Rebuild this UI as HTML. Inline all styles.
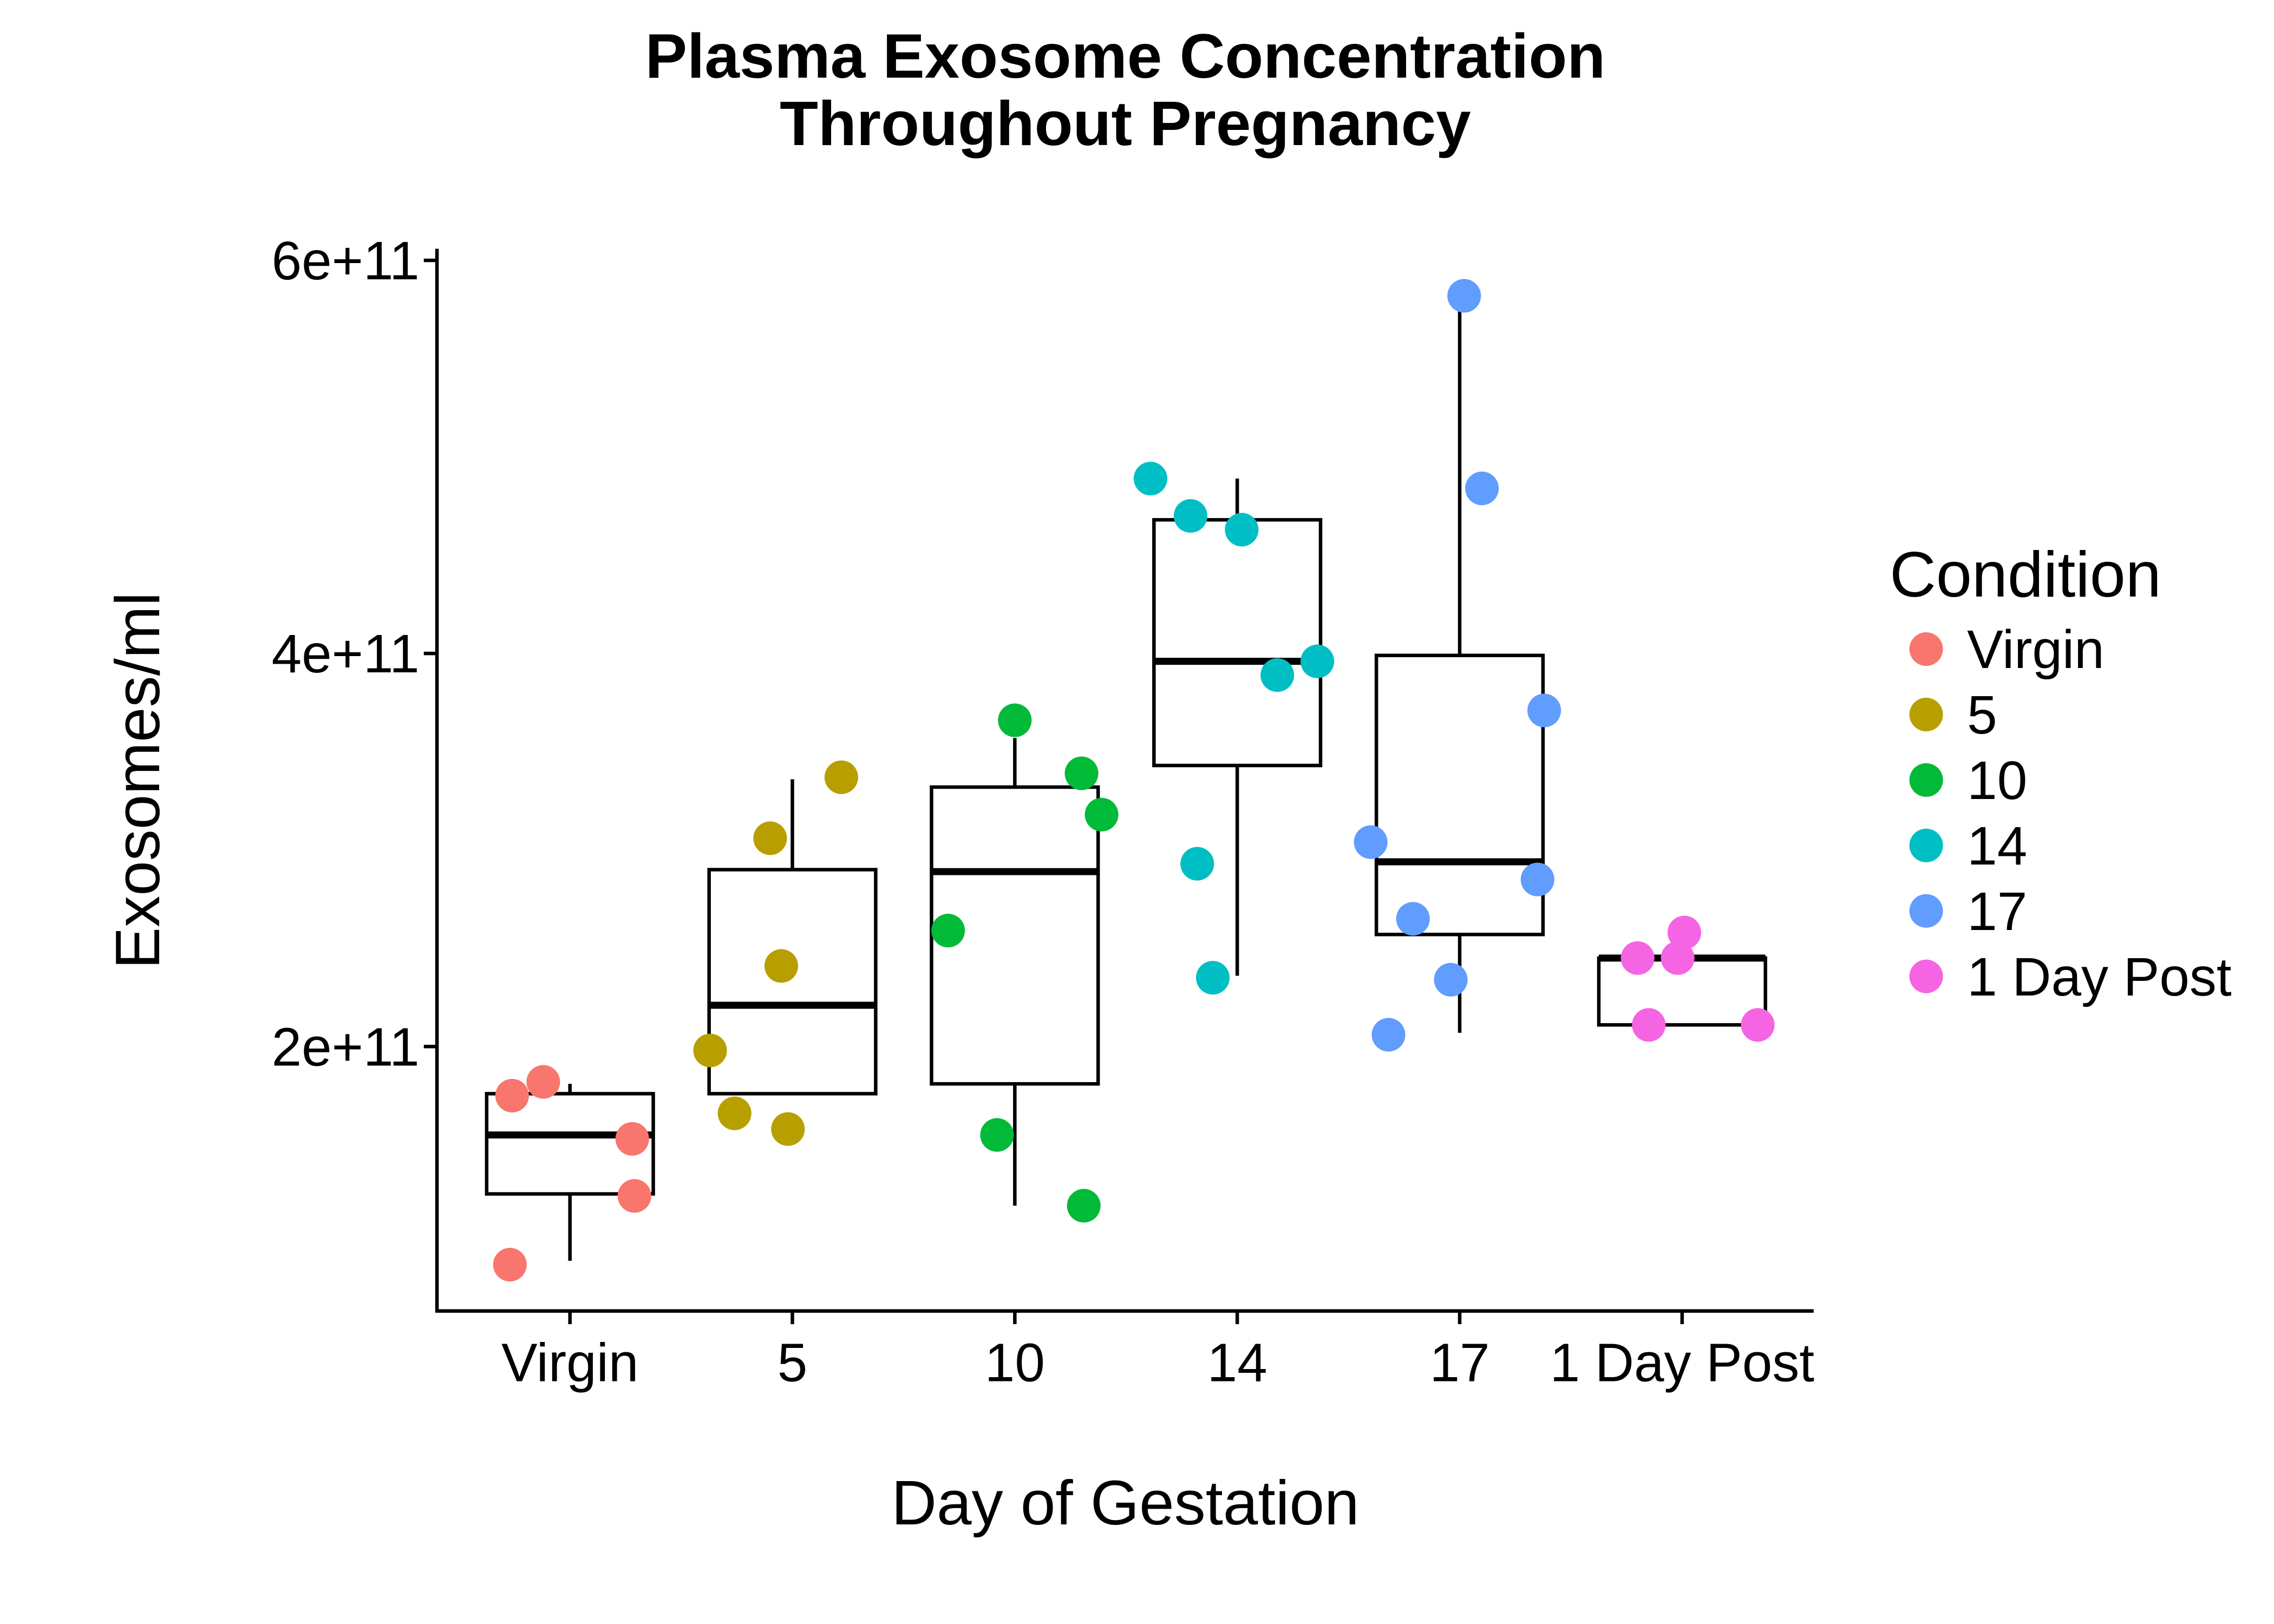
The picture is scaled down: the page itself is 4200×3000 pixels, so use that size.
<!DOCTYPE html>
<html><head><meta charset="utf-8"><style>
html,body{margin:0;padding:0;background:#fff;}
svg{display:block;font-family:"Liberation Sans",Arial,sans-serif;}
</style></head><body>
<svg id="chart" width="4200" height="3000" viewBox="0 0 1556 1111" xmlns="http://www.w3.org/2000/svg">
<rect width="1556" height="1111" fill="#fff"/>
<text x="770" y="53" font-size="43" font-weight="bold" text-anchor="middle">Plasma Exosome Concentration</text>
<text x="770" y="99" font-size="43" font-weight="bold" text-anchor="middle">Throughout Pregnancy</text>
<g id="plot"></g>
<text x="770" y="1043" font-size="43" text-anchor="middle">Day of Gestation</text>
<text transform="translate(109,534) rotate(-90)" font-size="43" text-anchor="middle">Exosomes/ml</text>
<g id="legend"></g>
</svg>
<script>
const categories=["Virgin","5","10","14","17","1 Day Post"];
const colors=["#F8766D","#B79F00","#00BA38","#00BFC4","#619CFF","#F564E3"];
const yTicks=[2,4,6];
const yTickLabels=["2e+11","4e+11","6e+11"];
// box stats (units 1e11): [low, q1, median, q3, high]
const boxLow=[0.91,1.76,1.19,2.36,2.07,2.11];
const boxQ1=[1.25,1.76,1.81,3.43,2.57,2.11];
const boxMed=[1.55,2.21,2.89,3.96,2.94,2.45];
const boxQ3=[1.76,2.90,3.32,4.68,3.99,2.45];
const boxHigh=[1.81,3.36,3.57,4.89,5.82,2.58];
// points: category index, jitter (category units), value (1e11)
const ptCat=[0,0,0,0,0, 1,1,1,1,1,1, 2,2,2,2,2,2, 3,3,3,3,3,3,3, 4,4,4,4,4,4,4,4, 5,5,5,5,5];
const ptJitter=[-0.26,-0.12,0.28,0.29,-0.27, -0.37,-0.26,-0.10,-0.05,-0.02,0.22, -0.30,-0.08,0,0.30,0.31,0.39, -0.39,-0.21,0.02,0.18,0.36,-0.18,-0.11, 0.02,0.10,0.38,-0.40,0.35,-0.21,-0.04,-0.32, -0.20,-0.02,0.01,-0.15,0.34];
const ptValue=[1.75,1.82,1.53,1.24,0.89, 1.98,1.66,3.06,2.41,1.58,3.37, 2.59,1.55,3.66,3.39,1.19,3.18, 4.89,4.70,4.63,3.89,3.96,2.93,2.35, 5.82,4.84,3.71,3.04,2.85,2.65,2.34,2.06, 2.45,2.45,2.58,2.11,2.11];
const NS="http://www.w3.org/2000/svg";
const X0=299,X1=1241,YT=170,YB=897;
function xs(i){return 390+i*152.2;}
function ys(v){return 716-(v-2)*134.5;}
const plot=document.getElementById('plot');
function mk(tag,attrs,parent){const e=document.createElementNS(NS,tag);for(const k in attrs)e.setAttribute(k,attrs[k]);(parent||plot).appendChild(e);return e;}
let e=mk('line',{x1:X0,y1:YT,x2:X0,y2:YB+1,stroke:'#000','stroke-width':2.4});


e=mk('line',{x1:X0-1,y1:YB,x2:X1,y2:YB,stroke:'#000','stroke-width':2.4});


yTicks.forEach((v,i)=>{
 const y=ys(v);
 const t=mk('line',{x1:X0-9,y1:y,x2:X0,y2:y,stroke:'#000','stroke-width':2.4});
 
 
 const l=mk('text',{x:X0-12,y:y+13,'font-size':37,'text-anchor':'end'});
 l.textContent=yTickLabels[i];
 
 
});
categories.forEach((c,i)=>{
 const x=xs(i);
 const t=mk('line',{x1:x,y1:YB,x2:x,y2:YB+9,stroke:'#000','stroke-width':2.4});
 
 
 const l=mk('text',{x:x,y:945,'font-size':37,'text-anchor':'middle'});
 l.textContent=c;
 
 
 const g=mk('g',{});
 
 
 const hw=57;
 mk('line',{x1:x,y1:ys(boxHigh[i]),x2:x,y2:ys(boxQ3[i]),stroke:'#000','stroke-width':2.4},g);
 mk('line',{x1:x,y1:ys(boxQ1[i]),x2:x,y2:ys(boxLow[i]),stroke:'#000','stroke-width':2.4},g);
 mk('rect',{x:x-hw,y:ys(boxQ3[i]),width:2*hw,height:Math.max(0,ys(boxQ1[i])-ys(boxQ3[i])),fill:'#fff',stroke:'#000','stroke-width':2.4},g);
 mk('line',{x1:x-hw,y1:ys(boxMed[i]),x2:x+hw,y2:ys(boxMed[i]),stroke:'#000','stroke-width':4.8},g);
});
ptValue.forEach((v,k)=>{
 const c=mk('circle',{cx:xs(ptCat[k]+ptJitter[k]),cy:ys(v),r:11.5,fill:colors[ptCat[k]]});
 
 
});
const leg=document.getElementById('legend');
const lt=mk('text',{x:1293,y:408,'font-size':44},leg);
lt.textContent='Condition';


categories.forEach((c,i)=>{
 const y=444+i*44.8;
 const g=mk('g',{},leg);
 
 
 mk('circle',{cx:1318,cy:y,r:11.5,fill:colors[i]},g);
 const t=mk('text',{x:1346,y:y+13,'font-size':37},g);
 t.textContent=c;
});
</script>
</body></html>
